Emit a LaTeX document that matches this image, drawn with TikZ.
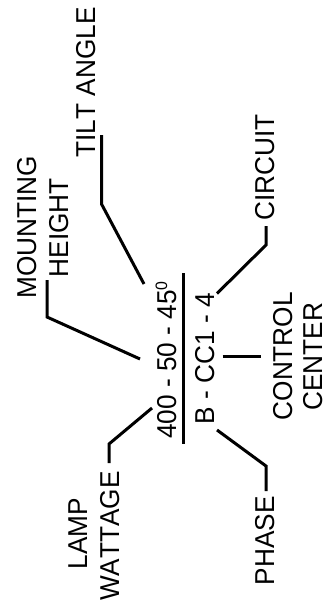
\documentclass[tikz,border=0pt]{standalone}
\usepackage{fontspec}
\setmainfont[Kerning=Off,FakeStretch=0.96]{Liberation Sans}
\begin{document}
\begin{tikzpicture}[x=1pt,y=-1pt,
  lab/.style={rotate=90,anchor=base west,inner sep=0pt,font=\fontsize{27.3}{30}\selectfont},
  conn/.style={line width=3pt,black,line join=miter}]
\useasboundingbox (0,0) rectangle (323,605);
\node[lab] (tilt) at (95,157.5) {TILT ANGLE};
\node[lab] (mount) at (36,299) {MOUNTING};
\node[lab] (height) at (68,277.5) {HEIGHT};
\node[lab] (lamp) at (87,569.5) {LAMP};
\node[lab] (watt) at (119,601) {WATTAGE};
\node[lab] (circ) at (274,221) {CIRCUIT};
\node[lab] (phase) at (274,585.5) {PHASE};
\node[lab] (ctrl) at (292,420.5) {CONTROL};
\node[lab] (cent) at (322,411) {CENTER};
\node[lab] (top) at (176,439) {400 - 50 - 45\raisebox{9pt}{\fontsize{16.5}{18}\selectfont 0}};
\node[lab] (bot) at (214.5,424.5) {B - CC1 - 4};
\coordinate (tiltA) at (101.5,135);
\coordinate (tiltB) at (101.5,204);
\coordinate (tiltC) at (144,284);
\coordinate (circA) at (266,226);
\coordinate (circB) at (266,245);
\coordinate (circC) at (217,293.5);
\coordinate (mtA) at (47,280);
\coordinate (mtB) at (47,317);
\coordinate (mtC) at (140,359);
\coordinate (lpA) at (109,463);
\coordinate (lpB) at (109,444);
\coordinate (lpC) at (152,408);
\coordinate (phA) at (266,491);
\coordinate (phB) at (266,466);
\coordinate (phC) at (217,430);
\coordinate (ctA) at (222.5,356);
\coordinate (ctB) at (261,356);
\coordinate (ruleA) at (183,273);
\coordinate (ruleB) at (183,444);
\draw[conn] (tiltA) -- (tiltB) -- (tiltC);
\draw[conn] (circA) -- (circB) -- (circC);
\draw[conn] (mtA) -- (mtB) -- (mtC);
\draw[conn] (lpA) -- (lpB) -- (lpC);
\draw[conn] (phA) -- (phB) -- (phC);
\draw[conn] (ctA) -- (ctB);
\draw[conn] (ruleA) -- (ruleB);
\end{tikzpicture}
\end{document}
